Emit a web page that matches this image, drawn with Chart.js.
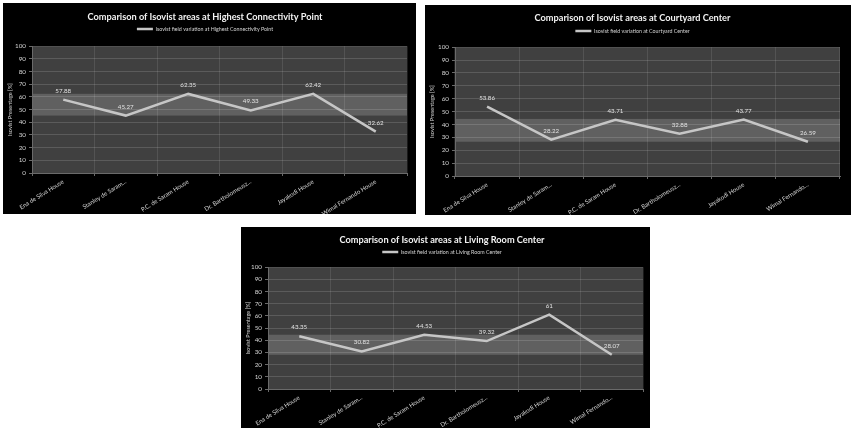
<!DOCTYPE html>
<html>
<head>
<meta charset="utf-8">
<script src="https://cdn.jsdelivr.net/npm/chart.js@4.4.1/dist/chart.umd.min.js"></script>
<style>
  html, body { margin: 0; padding: 0; background: #fff; }
  body { width: 854px; height: 428px; position: relative; overflow: hidden; }
  .box { position: absolute; background: #000; }
  .box canvas { display: block; }
</style>
</head>
<body>
<div class="box" style="left:3px;top:3px;width:413px;height:211px"><canvas id="c1" width="413" height="211"></canvas></div>
<div class="box" style="left:425px;top:5px;width:426px;height:210px"><canvas id="c2" width="426" height="210"></canvas></div>
<div class="box" style="left:241px;top:227px;width:409px;height:201px"><canvas id="c3" width="409" height="201"></canvas></div>
<script>
// categories
const housesFull = ["Ena de Silva House", "Stanley de Saram...", "P.C. de Saram House", "Dr. Bartholomeusz...", "Jayakodi House", "Wimal Fernando House"];
const housesShort = ["Ena de Silva House", "Stanley de Saram...", "P.C. de Saram House", "Dr. Bartholomeusz...", "Jayakodi House", "Wimal Fernando..."];

// series values (%)
const connectivityValues = [57.88, 45.27, 62.35, 49.33, 62.42, 32.62];
const courtyardValues = [53.86, 28.22, 43.71, 32.88, 43.77, 26.59];
const livingRoomValues = [43.35, 30.82, 44.53, 39.32, 61, 28.07];

// shaded range behind each line [low, high]
const connectivityBand = [45.27, 62.42];
const courtyardBand = [26.59, 44.3];
const livingRoomBand = [28.07, 44.53];

// y axis
const yMin = 0, yMax = 100, yStep = 10;

Chart.defaults.font.family = "Lato, 'Open Sans', sans-serif";

const lineColor = "#c6c6c6";

const plotBg = {
  id: "plotBg",
  beforeDraw(chart, args, opts) {
    const a = chart.chartArea, y = chart.scales.y, c = chart.ctx;
    c.save();
    c.fillStyle = "#404040";
    c.fillRect(a.left, a.top, a.right - a.left, a.bottom - a.top);
    const top = y.getPixelForValue(opts.band[1]);
    const bot = y.getPixelForValue(opts.band[0]);
    c.fillStyle = "#606060";
    c.fillRect(a.left, top, a.right - a.left, bot - top);
    c.restore();
  }
};

const pointLabels = {
  id: "pointLabels",
  afterDatasetsDraw(chart) {
    const c = chart.ctx;
    const meta = chart.getDatasetMeta(0);
    const vals = chart.data.datasets[0].data;
    c.save();
    c.fillStyle = "#e2e2e2";
    c.font = "6.2px Lato";
    c.textAlign = "center";
    c.textBaseline = "middle";
    meta.data.forEach((p, i) => {
      c.fillText(String(vals[i]), p.x, p.y - 9);
    });
    c.restore();
  }
};

const legendSpace = {
  id: "legendSpace",
  beforeInit(chart) {
    const fit = chart.legend.fit;
    chart.legend.fit = function() {
      fit.bind(chart.legend)();
      this.height += chart.options.plugins.legendSpace.extra;
    };
  }
};

function makeChart(id, title, seriesName, labels, values, band, lay) {
  const titleFs = 9.2, legendFs = 5.3;
  const titleEnd = lay.titleY + 0.6 * titleFs;
  const legendPad = lay.legendY - titleEnd - legendFs / 2;
  const extra = lay.plotTop - (titleEnd + legendFs + 2 * legendPad);

  new Chart(document.getElementById(id), {
    type: "line",
    data: {
      labels: labels,
      datasets: [{
        label: seriesName,
        data: values,
        borderColor: lineColor,
        backgroundColor: lineColor,
        borderWidth: 2.5,
        pointRadius: 0,
        tension: 0
      }]
    },
    plugins: [plotBg, pointLabels, legendSpace],
    options: {
      responsive: false,
      animation: false,
      devicePixelRatio: 1,
      layout: { padding: { left: 0, right: lay.right, top: 0, bottom: 0 } },
      plugins: {
        plotBg: { band: band },
        legendSpace: { extra: extra },
        tooltip: { enabled: false },
        title: {
          display: true,
          text: title,
          color: "#f2f2f2",
          font: { size: titleFs, weight: "bold" },
          padding: { top: lay.titleY - 0.6 * titleFs, bottom: 0 }
        },
        legend: {
          display: true,
          labels: {
            color: "#d4d4d4",
            font: { size: legendFs },
            boxWidth: 16,
            boxHeight: 2.5,
            padding: legendPad,
            generateLabels: (chart) => [{
              text: chart.data.datasets[0].label,
              fillStyle: lineColor,
              strokeStyle: lineColor,
              fontColor: "#d4d4d4",
              lineWidth: 0,
              hidden: false,
              datasetIndex: 0
            }]
          }
        }
      },
      scales: {
        x: {
          offset: true,
          grid: { offset: true, color: "rgba(255,255,255,0.1)", tickLength: 3, tickColor: "#6a6a6a" },
          border: { color: "#6a6a6a" },
          ticks: { color: "#d2d2d2", font: { size: 6.1 }, minRotation: 32, maxRotation: 32, padding: 2, autoSkip: false },
          afterFit: (s) => { s.height = lay.bottom; }
        },
        y: {
          min: yMin,
          max: yMax,
          ticks: { stepSize: yStep, color: "#d2d2d2", font: { size: 6.3 }, padding: 3 },
          grid: { color: "rgba(255,255,255,0.14)", tickLength: 3, tickColor: "#6a6a6a" },
          border: { color: "#6a6a6a" },
          title: { display: true, text: "Isovist Presentage [%]", color: "#d4d4d4", font: { size: 5.5 }, padding: { top: 4, bottom: 0 } },
          afterFit: (s) => { s.width = lay.left; }
        }
      }
    }
  });
}

makeChart("c1", "Comparison of Isovist areas at Highest Connectivity Point",
  "Isovist field variation at Highest Connectivity Point",
  housesFull, connectivityValues, connectivityBand,
  { left: 29, right: 9, plotTop: 37, bottom: 41, titleY: 14, legendY: 26 });

makeChart("c2", "Comparison of Isovist areas at Courtyard Center",
  "Isovist field variation at Courtyard Center",
  housesShort, courtyardValues, courtyardBand,
  { left: 30, right: 11, plotTop: 37, bottom: 39, titleY: 13, legendY: 26 });

makeChart("c3", "Comparison of Isovist areas at Living Room Center",
  "Isovist field variation at Living Room Center",
  housesShort, livingRoomValues, livingRoomBand,
  { left: 27, right: 7, plotTop: 34, bottom: 39, titleY: 13, legendY: 25 });
</script>
</body>
</html>
